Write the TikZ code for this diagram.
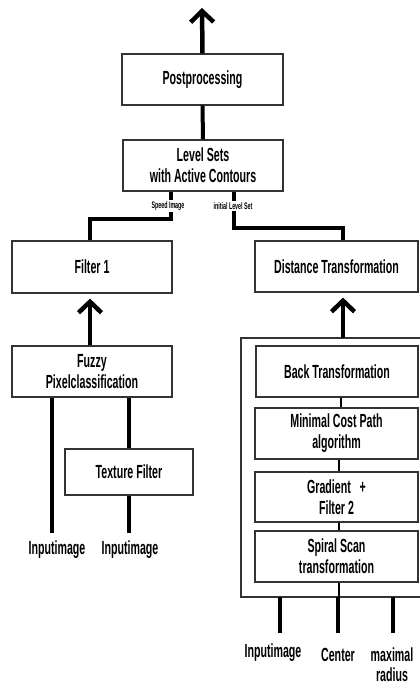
\documentclass[tikz,border=0pt]{standalone}
\usepackage{fontspec}
\newfontfamily\cond{Liberation Sans}[FakeStretch=0.56]
\usetikzlibrary{arrows.meta}
\tikzset{
  box/.style={draw=black!80, line width=1.2pt, fill=white, align=center, inner sep=0pt,
    font=\cond\bfseries\fontsize{19}{21}\selectfont},
  lbl/.style={font=\cond\bfseries\fontsize{19}{20}\selectfont, inner sep=1pt, align=center},
  small/.style={font=\cond\bfseries\fontsize{9.5}{10}\selectfont, fill=white, inner sep=1.5pt},
  thickline/.style={line width=4pt},
  thinline/.style={line width=2pt},
  uparrow/.style={line width=4.5pt, -{Straight Barb[length=11pt,width=23pt]}},
}
\begin{document}
\begin{tikzpicture}[x=1pt,y=-1pt]
\useasboundingbox (0,0) rectangle (420,686);
% outer box
\draw[draw=black!80, line width=1.2pt] (241,338) rectangle (425,597);
\node[box, minimum width=161pt, minimum height=51pt] (post) at (202.5,79.5) {Postprocessing};
\node[box, minimum width=160pt, minimum height=51pt] (level) at (203,165.5) {Level Sets\\with Active Contours};
\node[box, minimum width=160pt, minimum height=52pt] (filt) at (92,267) {Filter 1};
\node[box, minimum width=163pt, minimum height=51pt] (dist) at (336.5,266.5) {Distance Transformation};
\node[box, minimum width=160pt, minimum height=51pt] (fuzzy) at (92,371.5) {Fuzzy\\Pixelclassification};
\node[box, minimum width=128pt, minimum height=46pt] (tex) at (129,472) {Texture Filter};
\node[box, minimum width=162pt, minimum height=51pt] (back) at (337,371.5) {Back Transformation};
\node[box, minimum width=163pt, minimum height=51pt] (minc) at (336.5,433.5) {Minimal Cost Path\\algorithm};
\node[box, minimum width=163pt, minimum height=50pt] (grad) at (336.5,497) {Gradient\ \ \ +\\Filter 2};
\node[box, minimum width=163pt, minimum height=51pt] (spir) at (336.5,556.5) {Spiral Scan\\transformation};

\coordinate (top) at (202,8);
\coordinate (outtop) at (343,338);
\coordinate (outbot) at (339,597);
\coordinate (i1) at (52,533);
\coordinate (i2) at (129,533);
\coordinate (b1) at (280,633);
\coordinate (b2) at (338,633);
\coordinate (b3) at (393,633);

% top connectors
\draw[uparrow] (post.north) -- (top);
\draw[thickline] (level.north) -- (post.south);
\draw[thickline] ([xshift=-32pt]level.south) |- (90,219) -- (filt.north -| 90,0);
\draw[thickline] ([xshift=31pt]level.south) |- (343,228) -- (dist.north -| 343,0);
\node[small] (sp) at (168,206) {Speed Image};
\node[small] (il) at (233,206) {initial Level Set};

% left branch
\draw[uparrow, shorten >=5pt] (fuzzy.north -| 90,0) -- (filt.south -| 90,0);
\draw[thickline] (fuzzy.south -| i1) -- (i1);
\draw[thickline] (fuzzy.south -| tex.north) -- (tex.north);
\draw[thickline] (tex.south) -- (i2);
\node[lbl] (in1) at (57,550) {Inputimage};
\node[lbl] (in2) at (130,550) {Inputimage};

% right branch
\draw[uparrow, shorten >=5pt] (outtop) -- (dist.south -| outtop);
\draw[thinline] (back.south -| 341,0) -- (minc.north -| 341,0);
\draw[thinline] (minc.south -| 339,0) -- (grad.north -| 339,0);
\draw[thinline] (grad.south -| 339,0) -- (spir.north -| 339,0);
\draw[thinline] (spir.south -| outbot) -- (outbot);
\draw[thickline] (b1 |- outbot) -- (b1);
\draw[thickline] (b2 |- outbot) -- (b2);
\draw[thickline] (b3 |- outbot) -- (b3);
\node[lbl] (in3) at (273,653) {Inputimage};
\node[lbl] (cen) at (338,655) {Center};
\node[lbl] (mr) at (392,665) {maximal\\radius};
\end{tikzpicture}
\end{document}
